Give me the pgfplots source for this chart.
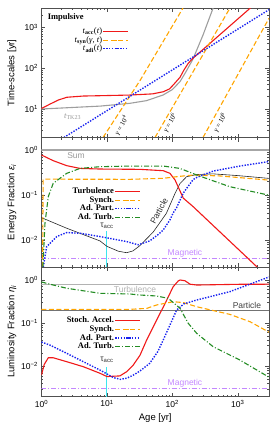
\documentclass[border=0pt]{standalone}
\usepackage{fontspec}
\setmainfont{Liberation Sans}
\newfontfamily\tms{Liberation Serif}
\usepackage{pgfplots}
\pgfplotsset{compat=1.18}
\definecolor{cred}{RGB}{240,25,25}
\definecolor{corange}{RGB}{255,165,0}
\definecolor{cblue}{RGB}{25,35,240}
\definecolor{cgreen}{RGB}{35,140,35}
\definecolor{cpurple}{RGB}{195,135,255}
\definecolor{ccyan}{RGB}{60,230,240}
\definecolor{cframe}{RGB}{80,80,80}
\tikzset{
  sred/.style={draw=cred, color=cred, line width=1.1pt, solid},
  sorange/.style={draw=corange, color=corange, line width=1.1pt, dash pattern=on 5pt off 2.5pt},
  sblue/.style={draw=cblue, color=cblue, line width=1.4pt, dash pattern=on 1.4pt off 1.4pt},
  sgreen/.style={draw=cgreen, color=cgreen, line width=1.1pt, dash pattern=on 5pt off 2pt on 1pt off 2pt},
  spurple/.style={draw=cpurple, color=cpurple, line width=0.9pt, dash pattern=on 5pt off 2pt on 1pt off 2pt},
}
\pgfplotsset{
  mypanel/.style={
    scale only axis, width=227.5pt, height=129.5pt,
    xmin=1, xmax=3000,
    axis line style={cframe, line width=0.8pt},
    tick style={cframe, line width=0.5pt},
    major tick length=4pt, minor tick length=2pt,
    tick align=inside,
    xtick={1,10,100,1000},
    minor xtick={2,3,4,5,6,7,8,9,20,30,40,50,60,70,80,90,200,300,400,500,600,700,800,900,2000,3000},
    tick label style={font=\fontsize{8.5}{10}\selectfont},
    label style={font=\fontsize{9.5}{11}\selectfont},
    ylabel style={at={(axis description cs:-0.13,0.5)}, anchor=center},
    legend style={draw=none, fill=none, font=\tms\bfseries\fontsize{8.5}{9}\selectfont, row sep=0pt, inner sep=0pt, nodes={inner sep=0.6pt}},
    legend cell align=right, legend plot pos=right,
    legend image post style={xscale=1.45},
  },
}
\begin{document}
\begin{tikzpicture}
\path[use as bounding box] (0,0) rectangle (275pt,-440pt);
% ---------------- Panel 1
\begin{loglogaxis}[mypanel, at={(41.5pt,-8pt)}, anchor=north west,
  ymin=2, ymax=3000, ytick={10,100,1000},
  yticklabels={10\textsuperscript{1},10\textsuperscript{2},10\textsuperscript{3}},
  minor ytick={2,3,4,5,6,7,8,9,20,30,40,50,60,70,80,90,200,300,400,500,600,700,800,900,2000,3000},
  xticklabels={},
  ylabel={Time-scales [yr]},
  legend style={at={(0.385,0.853)}, anchor=north east}]
\addplot[black!38, line width=1.1pt, forget plot] coordinates {(1,10)(8,11.8)(22.5,13.8)(40,16)(72,22)(100,30)(131,47)(160,80)(206,166)(294,650)(420,3000)(450,4000)};
\addplot[sred] coordinates {(1,10.3)(1.35,13.2)(1.81,16.6)(2.43,19.4)(4.36,20.8)(7.84,21.2)(22.5,22.0)(50,23.5)(72.7,26.5)(90,31)(103,38.8)(131,60)(150,90)(175,132)(206,175)(376,408)(1537,2950)(2000,4340)};
\addlegendentry{\mdseries\textit{t}\textsubscript{\textbf{acc}}(\textit{t})}
\addplot[sorange] coordinates {(8.71,2)(32.4,51.4)(145.5,3000)};
\addlegendentry{\mdseries\textit{t}\textsubscript{\textbf{syn}}(\textit{γ}, \textit{t})}
\addplot[sorange, forget plot] coordinates {(54.3,2)(760,3000)};
\addplot[sorange, forget plot] coordinates {(294,2)(3000,1680)};
\addplot[sblue] coordinates {(2.2,2)(3300,3000)};
\addlegendentry{\mdseries\textit{t}\textsubscript{\textbf{adi}}(\textit{t})}
\node[anchor=north west, font=\tms\bfseries\fontsize{8.5}{9}\selectfont] at (rel axis cs:0.012,0.985) {Impulsive};
\node[text=black!40, font=\tms\fontsize{8.5}{9}\selectfont] at (axis cs:2.98,6.37) {\textit{t}\textsubscript{TK23}};
\node[rotate=60, font=\tms\fontsize{7}{8}\selectfont, inner sep=0pt] at (axis cs:16.7,3.94) {\textit{γ} = 10\textsuperscript{4}};
\node[rotate=60, font=\tms\fontsize{7}{8}\selectfont, inner sep=0pt] at (axis cs:92,4.65) {\textit{γ} = 10\textsuperscript{6}};
\node[rotate=60, font=\tms\fontsize{7}{8}\selectfont, inner sep=0pt] at (axis cs:535,4.65) {\textit{γ} = 10\textsuperscript{8}};
\end{loglogaxis}
% ---------------- Panel 2
\begin{loglogaxis}[mypanel, at={(41.5pt,-137.5pt)}, anchor=north west,
  ymin=0.0025, ymax=1.9, ytick={0.01,0.1,1},
  yticklabels={10\textsuperscript{−2},10\textsuperscript{−1},10\textsuperscript{0}},
  minor ytick={0.003,0.004,0.005,0.006,0.007,0.008,0.009,0.02,0.03,0.04,0.05,0.06,0.07,0.08,0.09,0.2,0.3,0.4,0.5,0.6,0.7,0.8,0.9},
  xticklabels={},
  ylabel={Energy Fraction \textit{ε}\textsubscript{\textit{i}}},
  legend style={at={(0.437,0.618)}, anchor=north east}]
\addplot[black!35, line width=1.1pt, forget plot] coordinates {(1,1)(3000,1)};
\addplot[spurple, forget plot] coordinates {(1,0.0038)(3000,0.0038)};
\addplot[ccyan, line width=1.1pt, forget plot] coordinates {(10,0.0025)(10,0.0158)};
\addplot[black!85, line width=0.6pt, forget plot] coordinates {(1,0.0313)(2.43,0.0182)(7.84,0.0095)(10,0.0072)(15,0.0056)(20,0.0052)(25,0.0057)(32,0.0075)(51,0.015)(81,0.039)(110,0.109)(131,0.18)(165,0.255)(236,0.285)(420,0.295)(1000,0.27)(3000,0.234)};
\addplot[sred] coordinates {(1,0.774)(1.51,0.58)(2.43,0.449)(3.88,0.39)(7.84,0.378)(32,0.372)(72.7,0.347)(92,0.303)(110,0.215)(147,0.085)(208,0.055)(1945,0.00255)(2100,0.0022)};
\addlegendentry{Turbulence}
\addplot[sorange] coordinates {(1.04,0.0025)(1.06,0.225)(22.5,0.223)(72.7,0.235)(130,0.26)(208,0.278)(535,0.265)(3000,0.214)};
\addlegendentry{Synch.}
\addplot[sblue] coordinates {(1.065,0.0025)(1.2,0.0071)(1.71,0.0119)(2.43,0.0146)(3.88,0.0141)(7.84,0.0119)(20,0.0092)(30,0.0078)(45,0.0095)(60,0.013)(72.7,0.0167)(92,0.028)(103,0.04)(116,0.052)(147,0.11)(165,0.14)(208,0.22)(236,0.245)(334,0.3)(420,0.34)(1075,0.44)(3000,0.555)};
\addlegendentry{Ad. Part.}
\addplot[sgreen] coordinates {(1.05,0.0025)(1.13,0.0235)(1.27,0.092)(1.51,0.182)(2.43,0.303)(3.88,0.39)(7.84,0.426)(22.5,0.44)(72.7,0.44)(131,0.39)(236,0.278)(754,0.153)(3000,0.099)};
\addlegendentry{Ad. Turb.}
\node[text=black!40, font=\fontsize{8.5}{9}\selectfont] at (axis cs:3.37,0.77) {Sum};
\node[text=cpurple, font=\fontsize{8.5}{9}\selectfont] at (axis cs:156,0.00514) {Magnetic};
\node[text=black!80, rotate=62, font=\fontsize{8.5}{9}\selectfont, inner sep=0pt] at (axis cs:62.5,0.044) {Particle};
\node[text=black!80, font=\fontsize{8.5}{9}\selectfont] at (axis cs:10,0.0205) {τ\textsubscript{acc}};
\end{loglogaxis}
% ---------------- Panel 3
\begin{loglogaxis}[mypanel, at={(41.5pt,-267pt)}, anchor=north west,
  ymin=0.002, ymax=2, ytick={0.01,0.1,1},
  yticklabels={10\textsuperscript{−2},10\textsuperscript{−1},10\textsuperscript{0}},
  minor ytick={0.003,0.004,0.005,0.006,0.007,0.008,0.009,0.02,0.03,0.04,0.05,0.06,0.07,0.08,0.09,0.2,0.3,0.4,0.5,0.6,0.7,0.8,0.9,2},
  xticklabels={10\textsuperscript{0},10\textsuperscript{1},10\textsuperscript{2},10\textsuperscript{3}},
  xlabel={Age [yr]},
  ylabel={Luminosity Fraction \textit{η}\textsubscript{\textit{i}}},
  legend style={at={(0.437,0.62)}, anchor=north east}]
\addplot[black!30, line width=1.1pt, forget plot] coordinates {(1,0.8)(3000,0.8)};
\addplot[black!55, line width=1.1pt, forget plot] coordinates {(1,0.2)(3000,0.2)};
\addplot[spurple, forget plot] coordinates {(1,0.0031)(3000,0.0031)};
\addplot[ccyan, line width=1.1pt, forget plot] coordinates {(10,0.002)(10,0.0097)};
\addplot[sred] coordinates {(1,0.0063)(1.1,0.011)(1.27,0.0158)(1.51,0.0158)(2.43,0.0128)(4.36,0.0098)(7.84,0.0069)(10,0.0058)(15.8,0.006)(20,0.0075)(25,0.0105)(32,0.018)(40.5,0.0408)(57.5,0.118)(77.6,0.288)(103,0.70)(123,0.95)(131,1.0)(156,0.96)(186,0.80)(236,0.765)(500,0.78)(1000,0.795)(3000,0.8)};
\addlegendentry{Stoch. Accel.}
\addplot[sorange] coordinates {(1,0.209)(22.5,0.209)(40.5,0.22)(57.5,0.264)(103,0.314)(147,0.3)(236,0.24)(754,0.16)(1540,0.108)(2900,0.0636)(3000,0.062)};
\addlegendentry{Synch.}
\addplot[sblue] coordinates {(1,0.0366)(1.35,0.031)(2.43,0.02)(4.36,0.0128)(7.84,0.0082)(12.5,0.0055)(16,0.005)(20,0.0053)(25,0.0062)(32,0.0078)(45,0.0117)(60,0.022)(72.7,0.041)(92,0.091)(116,0.2)(150,0.28)(236,0.344)(754,0.536)(2900,1.15)(3000,1.17)};
\addlegendentry{Ad. Part.}
\addplot[sgreen] coordinates {(1,0.9)(1.51,0.766)(2.43,0.643)(7.84,0.492)(22.5,0.474)(32,0.449)(57.5,0.426)(86.6,0.376)(131,0.221)(175,0.099)(236,0.058)(420,0.0285)(1075,0.014)(3000,0.0056)};
\addlegendentry{Ad. Turb.}
\node[text=black!30, font=\fontsize{8.5}{9}\selectfont] at (axis cs:26.9,0.618) {Turbulence};
\node[text=black!75, font=\fontsize{8.5}{9}\selectfont] at (axis cs:1380,0.264) {Particle};
\node[text=cpurple, font=\fontsize{8.5}{9}\selectfont] at (axis cs:156,0.00411) {Magnetic};
\node[text=black!80, font=\fontsize{8.5}{9}\selectfont] at (axis cs:10,0.014) {τ\textsubscript{acc}};
\end{loglogaxis}
\end{tikzpicture}
\end{document}
